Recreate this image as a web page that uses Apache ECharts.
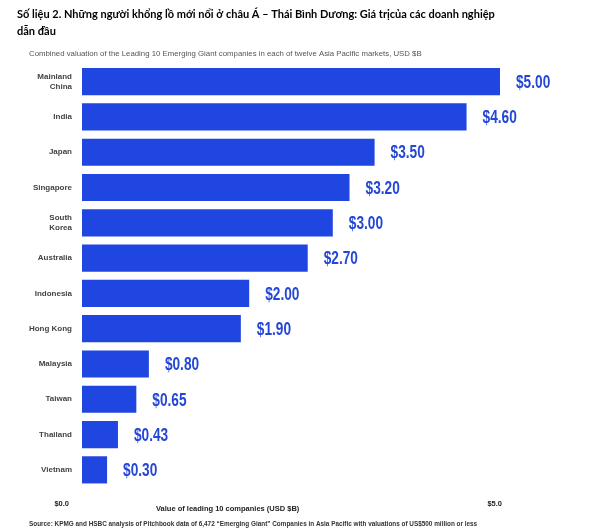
<!DOCTYPE html>
<html><head><meta charset="utf-8">
<script src="https://cdn.jsdelivr.net/npm/echarts@6/dist/echarts.min.js"></script>
<style>html,body{margin:0;padding:0;background:#fff}#c{width:600px;height:531px}</style>
</head><body><div id="c"></div>
<script>
const categories = ["Mainland\nChina","India","Japan","Singapore","South\nKorea","Australia","Indonesia","Hong Kong","Malaysia","Taiwan","Thailand","Vietnam"];
const values = [5.00,4.60,3.50,3.20,3.00,2.70,2.00,1.90,0.80,0.65,0.43,0.30];
const xTickValues = [0,5];

const chart = echarts.init(document.getElementById('c'));
chart.setOption({
  animation:false,
  title:[
    {text:"Số liệu 2. Những người khổng lồ mới nổi ở châu Á – Thái Bình Dương: Giá trịcủa các doanh nghiệp\ndẫn đầu",
     left:12, top:1, textStyle:{fontFamily:'Lato',fontWeight:'bold',fontSize:11,color:'#000',lineHeight:17}},
    {text:"Combined valuation of the Leading 10 Emerging Giant companies in each of twelve Asia Pacific markets, USD $B",
     left:24, top:45, textStyle:{fontFamily:'Liberation Sans',fontWeight:'normal',fontSize:7.8,color:'#555'}},
    {text:"Value of leading 10 companies (USD $B)",
     left:151, top:500, textStyle:{fontFamily:'Liberation Sans',fontWeight:'bold',fontSize:7.5,color:'#222'}},
    {text:"Source: KPMG and HSBC analysis of Pitchbook data of 6,472 \u201cEmerging Giant\u201d Companies in Asia Pacific with valuations of US$500 million or less",
     left:24, top:516, textStyle:{fontFamily:'Liberation Sans',fontWeight:'bold',fontSize:6.4,color:'#333'}}
  ],
  grid:{left:82,right:100,top:64,bottom:43.5,containLabel:false},
  xAxis:{type:'value',min:0,max:5,
    axisLine:{show:false},axisTick:{show:false},splitLine:{show:false},
    axisLabel:{customValues:xTickValues,margin:12,align:'right',fontFamily:'Liberation Sans',fontWeight:'bold',fontSize:7.5,color:'#222',
      formatter:v=> v===0 ? '{a|$'+v.toFixed(1)+'}' : '{b|$'+v.toFixed(1)+'}',
      rich:{a:{padding:[0,13,0,0],fontFamily:'Liberation Sans',fontWeight:'bold',fontSize:7.5,color:'#222'},
            b:{padding:[0,-2,0,0],fontFamily:'Liberation Sans',fontWeight:'bold',fontSize:7.5,color:'#222'}}}
  },
  yAxis:{type:'category',data:categories,inverse:true,
    axisLine:{show:false},axisTick:{show:false},
    axisLabel:{margin:10,fontFamily:'Liberation Sans',fontSize:8,fontWeight:'bold',color:'#444',lineHeight:10}
  },
  series:[
    {type:'bar',data:values,barCategoryGap:'23%',itemStyle:{color:'#1f46e0'}},
    {type:'custom',data:values.map((v,i)=>[v,i]),encode:{x:0,y:1},silent:true,
      renderItem:(params,api)=>{
        const pt = api.coord([api.value(0), api.value(1)]);
        return {type:'text', x:pt[0]+16, y:pt[1]+1, scaleX:0.72,
          style:{text:'$'+api.value(0).toFixed(2), fontFamily:'Liberation Sans', fontWeight:'bold',
                 fontSize:19, fill:'#2447d6', align:'left', verticalAlign:'middle'}};
      }}
  ]
});
</script></body></html>
